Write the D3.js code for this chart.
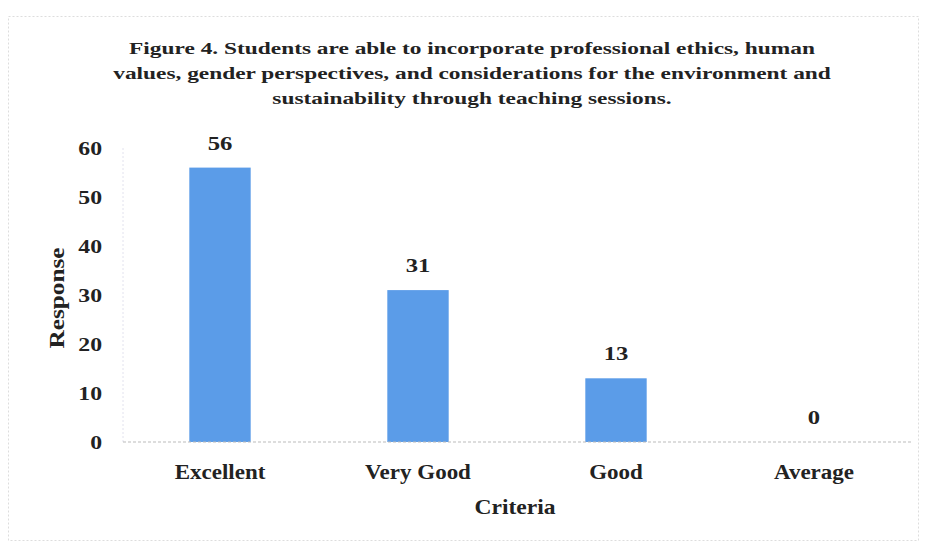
<!DOCTYPE html>
<html>
<head>
<meta charset="utf-8">
<script src="https://cdn.jsdelivr.net/npm/d3@7"></script>
<style>
  body { margin: 0; background: #fff; }
  text { font-family: "Liberation Serif", "Times New Roman", serif; font-weight: bold; fill: #222; }
</style>
</head>
<body>
<div id="chart"><svg></svg></div>
<script>
var categories = ["Excellent", "Very Good", "Good", "Average"];
var responses = [56, 31, 13, 0];
var yTicks = [0, 10, 20, 30, 40, 50, 60];
var titleLines = [
  "Figure 4. Students are able to incorporate professional ethics, human",
  "values, gender perspectives, and considerations for the environment  and",
  "sustainability through teaching sessions."
];

var width = 925, height = 544;
var margin = {top: 148, right: 12, bottom: 102, left: 121};

var svg = d3.select("#chart").select("svg")
  .attr("width", width).attr("height", height);

// the scan is stretched sideways, so text gets a horizontal scale
function wide(sx) { return "scale(" + sx + ",1)"; }

// faint frame of the scanned figure
svg.append("rect")
  .attr("x", 8.5).attr("y", 16.5)
  .attr("width", 910).attr("height", 524)
  .attr("fill", "none")
  .attr("stroke", "#ddd")
  .attr("stroke-dasharray", "2,2");

var x = d3.scaleBand()
  .domain(categories)
  .range([margin.left, width - margin.right])
  .paddingInner(0.69)
  .paddingOuter(0.345);

var y = d3.scaleLinear()
  .domain([0, 60])
  .range([height - margin.bottom, margin.top]);

// title
svg.append("g").selectAll("text")
  .data(titleLines)
  .enter().append("text")
  .attr("transform", function(d, i) { return "translate(472," + (54 + i * 25) + ") " + wide(1.375); })
  .attr("text-anchor", "middle")
  .attr("font-size", 17)
  .text(function(d) { return d; });

// faint vertical axis line
svg.append("line")
  .attr("x1", margin.left + 2).attr("x2", margin.left + 2)
  .attr("y1", y(60)).attr("y2", y(0))
  .attr("stroke", "#e2e2ee")
  .attr("stroke-dasharray", "2,2");

// bars
svg.selectAll("rect.bar")
  .data(responses)
  .enter().append("rect")
  .attr("class", "bar")
  .attr("x", function(d, i) { return x(categories[i]); })
  .attr("y", function(d) { return y(d); })
  .attr("width", x.bandwidth())
  .attr("height", function(d) { return y(0) - y(d); })
  .attr("fill", "#5b9ce8");

// x axis line
svg.append("line")
  .attr("x1", margin.left + 2).attr("x2", width - margin.right)
  .attr("y1", y(0)).attr("y2", y(0))
  .attr("stroke", "#bbb")
  .attr("stroke-dasharray", "3,2");

// value labels
svg.selectAll("text.value")
  .data(responses)
  .enter().append("text")
  .attr("class", "value")
  .attr("transform", function(d, i) {
    return "translate(" + (x(categories[i]) + x.bandwidth() / 2) + "," + (y(d) - 18) + ") " + wide(1.3);
  })
  .attr("text-anchor", "middle")
  .attr("font-size", 19)
  .text(function(d) { return d; });

// y ticks
var yAxis = svg.append("g")
  .attr("transform", "translate(102,0)")
  .call(d3.axisLeft(y).tickValues(yTicks).tickSize(0).tickPadding(0));
yAxis.select(".domain").remove();
yAxis.selectAll("text")
  .attr("font-size", 19)
  .attr("dy", "0.35em")
  .attr("transform", wide(1.25));

// x ticks
var xAxis = svg.append("g")
  .attr("transform", "translate(0," + y(0) + ")")
  .call(d3.axisBottom(x).tickSize(0).tickPadding(23));
xAxis.select(".domain").remove();
xAxis.selectAll("text")
  .attr("font-size", 20)
  .attr("transform", wide(1.15));

// axis titles
svg.append("text")
  .attr("transform", "translate(64,298) rotate(-90) " + wide(1.15))
  .attr("text-anchor", "middle")
  .attr("font-size", 22)
  .text("Response");

svg.append("text")
  .attr("transform", "translate(515,514) " + wide(1.07))
  .attr("text-anchor", "middle")
  .attr("font-size", 22)
  .text("Criteria");
</script>
</body>
</html>
